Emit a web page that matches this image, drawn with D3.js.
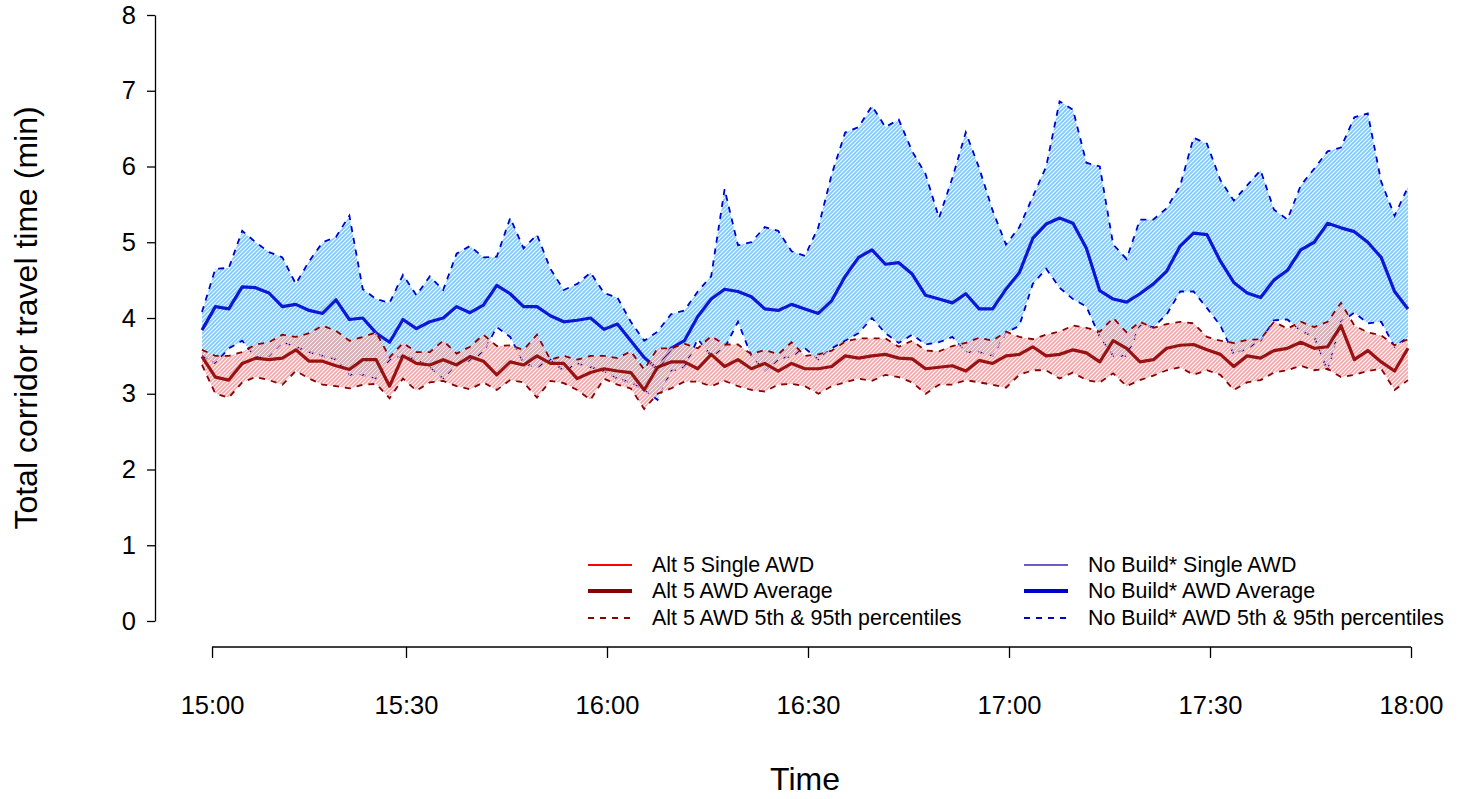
<!DOCTYPE html>
<html>
<head>
<meta charset="utf-8">
<script src="https://cdn.jsdelivr.net/npm/d3@7"></script>
<style>
  body { margin: 0; background: #fff; }
  svg { display: block; }
  text { font-family: "Liberation Sans", Arial, sans-serif; fill: #000; }
</style>
</head>
<body>
<svg id="chart" width="1465" height="799"></svg>
<script>
const w = 1465;
const h = 799;

// one sample every 2 minutes, first one at 14:59:30 (minutes after 15:00)
const startMin = -0.45;
const stepMin = 2;

// No Build* AWD: 95th percentile, average, 5th percentile (min)
const noBuildP95 = [4.08,4.65,4.66,5.15,5.0,4.87,4.8,4.45,4.75,5.0,
  5.07,5.35,4.38,4.25,4.2,4.57,4.3,4.55,4.37,4.85,
  4.95,4.8,4.81,5.32,4.92,5.1,4.65,4.37,4.45,4.6,
  4.33,4.27,3.95,3.7,3.82,4.05,4.1,4.35,4.55,5.7,
  4.96,5.0,5.2,5.15,4.88,4.82,5.2,5.9,6.45,6.52,
  6.8,6.52,6.62,6.2,5.9,5.32,5.85,6.45,5.98,5.42,
  4.97,5.2,5.6,6.0,6.86,6.75,6.05,6.0,4.97,4.78,
  5.3,5.3,5.45,5.75,6.38,6.3,5.82,5.55,5.75,5.95,
  5.43,5.3,5.75,5.97,6.2,6.25,6.65,6.7,5.8,5.35,
  5.73];
const noBuildMean = [3.84,4.15,4.12,4.41,4.4,4.33,4.15,4.18,4.1,4.06,
  4.24,3.98,4.0,3.8,3.68,3.98,3.86,3.95,4.0,4.15,
  4.07,4.17,4.43,4.32,4.15,4.15,4.03,3.95,3.97,4.0,
  3.85,3.92,3.7,3.48,3.32,3.6,3.7,4.02,4.25,4.38,
  4.35,4.28,4.12,4.1,4.18,4.12,4.06,4.23,4.55,4.8,
  4.9,4.71,4.73,4.58,4.3,4.25,4.2,4.32,4.12,4.12,
  4.38,4.6,5.05,5.24,5.32,5.25,4.92,4.36,4.25,4.21,
  4.32,4.45,4.62,4.95,5.12,5.1,4.75,4.47,4.33,4.27,
  4.5,4.63,4.9,5.0,5.25,5.19,5.14,5.0,4.8,4.35,
  4.12];
const noBuildP5 = [3.5,3.4,3.6,3.7,3.48,3.5,3.68,3.62,3.55,3.5,
  3.45,3.25,3.25,3.2,3.45,3.5,3.45,3.35,3.2,3.4,
  3.44,3.55,3.88,3.75,3.4,3.35,3.45,3.3,3.4,3.35,
  3.3,3.2,3.15,3.05,2.92,3.3,3.35,3.72,3.5,3.6,
  3.95,3.5,3.3,3.45,3.5,3.6,3.45,3.6,3.7,3.8,
  4.0,3.8,3.67,3.78,3.65,3.68,3.75,3.55,3.55,3.5,
  3.8,3.9,4.45,4.65,4.4,4.25,4.15,3.75,3.5,3.5,
  3.9,3.88,4.05,4.35,4.35,4.13,3.9,3.52,3.6,3.7,
  3.97,3.98,3.83,3.75,3.3,3.95,4.07,3.93,3.95,3.62,
  3.75];

// Alt 5 AWD: 95th percentile, average, 5th percentile (min)
const alt5P95 = [3.58,3.5,3.5,3.55,3.65,3.68,3.78,3.75,3.8,3.9,
  3.83,3.7,3.75,3.81,3.48,3.67,3.55,3.55,3.7,3.53,
  3.62,3.78,3.63,3.64,3.58,3.78,3.45,3.5,3.45,3.5,
  3.5,3.47,3.56,3.32,3.6,3.6,3.66,3.6,3.76,3.65,
  3.65,3.52,3.58,3.52,3.68,3.5,3.52,3.57,3.69,3.73,
  3.73,3.73,3.62,3.7,3.57,3.56,3.63,3.67,3.74,3.7,
  3.82,3.75,3.72,3.78,3.82,3.9,3.87,3.82,4.0,3.81,
  3.95,3.87,3.92,3.95,3.93,3.75,3.7,3.67,3.71,3.72,
  3.95,3.86,3.95,3.88,3.95,4.2,3.9,3.81,3.77,3.64,
  3.72];
const alt5Mean = [3.49,3.22,3.18,3.4,3.47,3.45,3.47,3.58,3.43,3.43,
  3.37,3.32,3.45,3.45,3.1,3.5,3.4,3.38,3.45,3.38,
  3.49,3.43,3.25,3.42,3.38,3.5,3.4,3.4,3.2,3.28,
  3.33,3.3,3.28,3.05,3.35,3.42,3.42,3.33,3.52,3.36,
  3.45,3.33,3.4,3.3,3.4,3.33,3.33,3.36,3.5,3.47,
  3.5,3.52,3.47,3.46,3.33,3.35,3.37,3.3,3.44,3.4,
  3.5,3.52,3.62,3.5,3.52,3.58,3.54,3.42,3.7,3.6,
  3.42,3.45,3.6,3.64,3.65,3.58,3.52,3.36,3.5,3.47,
  3.57,3.6,3.68,3.6,3.62,3.9,3.45,3.57,3.42,3.3,
  3.6];
const alt5P5 = [3.38,3.0,2.95,3.15,3.22,3.18,3.12,3.3,3.2,3.12,
  3.1,3.07,3.12,3.13,2.94,3.2,3.04,3.15,3.17,3.1,
  3.06,3.15,3.05,3.18,3.15,2.95,3.17,3.14,3.05,2.92,
  3.2,3.12,3.07,2.8,3.0,3.07,3.16,3.16,3.1,3.17,
  3.1,3.05,3.03,3.12,3.13,3.1,3.0,3.1,3.15,3.2,
  3.17,3.25,3.22,3.15,3.0,3.12,3.12,3.18,3.15,3.12,
  3.08,3.25,3.31,3.31,3.2,3.28,3.18,3.15,3.27,3.1,
  3.18,3.24,3.31,3.35,3.25,3.31,3.25,3.05,3.15,3.18,
  3.28,3.31,3.37,3.31,3.33,3.22,3.25,3.3,3.33,3.05,
  3.18];

// first tick sits a little after the half-hour grid, as in the original
const xTickMins = [1.05, 30, 60, 90, 120, 150, 180];
const xTickLabels = ['15:00', '15:30', '16:00', '16:30', '17:00', '17:30', '18:00'];
const yTicks = [0, 1, 2, 3, 4, 5, 6, 7, 8];

const legendLeft = ['Alt 5 Single AWD', 'Alt 5 AWD Average', 'Alt 5 AWD 5th & 95th percentiles'];
const legendRight = ['No Build* Single AWD', 'No Build* AWD Average', 'No Build* AWD 5th & 95th percentiles'];

const blue = '#0000cd';
const blueHatch = '#7ec8f6';
const red = '#8b0000';
const redHatch = '#eeaaaa';
const purple = '#6a5acd';

function build() {
  const svg = d3.select('#chart');

  const xScale = d3.scaleLinear().domain([0, 180]).range([205, 1411]);
  const yScale = d3.scaleLinear().domain([0, 8]).range([621, 15]);

  const mins = noBuildMean.map((d, i) => startMin + i * stepMin);
  const rows = (lo, mid, hi) => mins.map((t, i) => ({ t: t, lo: lo[i], mid: mid[i], hi: hi[i] }));
  const nb = rows(noBuildP5, noBuildMean, noBuildP95);
  const a5 = rows(alt5P5, alt5Mean, alt5P95);

  // hatch patterns like R polygon(density=...)
  const defs = svg.append('defs');
  [['hatchBlue', blueHatch], ['hatchRed', redHatch]].forEach(p => {
    defs.append('pattern')
      .attr('id', p[0])
      .attr('patternUnits', 'userSpaceOnUse')
      .attr('width', 4).attr('height', 4)
      .append('path')
      .attr('d', 'M-1,1 L1,-1 M0,4 L4,0 M3,5 L5,3')
      .attr('stroke', p[1])
      .attr('stroke-width', 1.8);
  });

  const area = d3.area()
    .x(d => xScale(d.t))
    .y0(d => yScale(d.lo))
    .y1(d => yScale(d.hi));
  const line = key => d3.line().x(d => xScale(d.t)).y(d => yScale(d[key]));

  function band(data, col, hatchId) {
    svg.append('path').datum(data)
      .attr('d', area)
      .attr('fill', `url(#${hatchId})`);
    svg.append('path').datum(data)
      .attr('d', line('mid')).attr('fill', 'none')
      .attr('stroke', col).attr('stroke-width', 3.2)
      .attr('stroke-opacity', 0.9)
      .attr('stroke-linejoin', 'round');
    ['lo', 'hi'].forEach(k => {
      svg.append('path').datum(data)
        .attr('d', line(k)).attr('fill', 'none')
        .attr('stroke', col).attr('stroke-width', 1.8)
        .attr('stroke-dasharray', '6,6');
    });
  }
  band(nb, blue, 'hatchBlue');
  band(a5, red, 'hatchRed');

  // axes, R style: axis line only between first and last tick
  const xAxis = d3.axisBottom(xScale)
    .tickValues(xTickMins)
    .tickFormat((d, i) => xTickLabels[i])
    .tickSize(11).tickSizeOuter(0).tickPadding(38);
  const gx = svg.append('g').attr('transform', 'translate(0,647)').call(xAxis);
  gx.select('.domain')
    .attr('d', `M${xScale(xTickMins[0])},0H${xScale(xTickMins[xTickMins.length - 1])}`);

  const yAxis = d3.axisLeft(yScale)
    .tickValues(yTicks)
    .tickSize(8).tickSizeOuter(0).tickPadding(11);
  const gy = svg.append('g').attr('transform', 'translate(155,0)').call(yAxis);

  [gx, gy].forEach(g => {
    g.selectAll('path, line').attr('stroke', '#000').attr('stroke-width', 1.3);
    g.selectAll('text').attr('font-size', 25.5)
      .style('font-family', '"Liberation Sans", Arial, sans-serif');
  });

  svg.append('text')
    .attr('x', 805).attr('y', 790)
    .attr('text-anchor', 'middle')
    .attr('font-size', 32)
    .text('Time');

  svg.append('text')
    .attr('transform', 'translate(37,318) rotate(-90)')
    .attr('text-anchor', 'middle')
    .attr('font-size', 32)
    .text('Total corridor travel time (min)');

  // legend
  const legendRows = [565, 591, 618];
  const leftStyles = [
    { col: '#ff0000', w: 2.2, dash: null },
    { col: red, w: 3.8, dash: null },
    { col: red, w: 1.8, dash: '6,6' }
  ];
  const rightStyles = [
    { col: purple, w: 2.2, dash: null },
    { col: blue, w: 3.8, dash: null },
    { col: blue, w: 1.8, dash: '6,6' }
  ];
  function legendCol(labels, styles, x0) {
    labels.forEach((lab, i) => {
      const y = legendRows[i];
      svg.append('line')
        .attr('x1', x0).attr('x2', x0 + 44)
        .attr('y1', y).attr('y2', y)
        .attr('stroke', styles[i].col)
        .attr('stroke-width', styles[i].w)
        .attr('stroke-dasharray', styles[i].dash);
      svg.append('text')
        .attr('x', x0 + 64).attr('y', y)
        .attr('dy', '0.35em')
        .attr('font-size', 21.4)
        .text(lab);
    });
  }
  legendCol(legendLeft, leftStyles, 588);
  legendCol(legendRight, rightStyles, 1024);
}

build();
</script>
</body>
</html>
